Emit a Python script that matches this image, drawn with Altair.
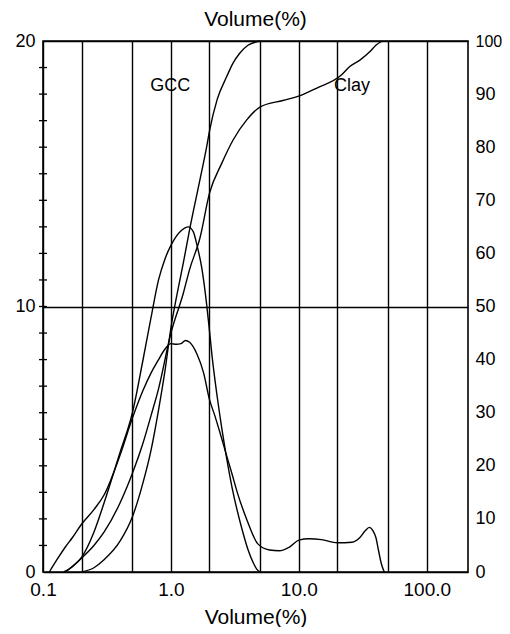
import altair as alt
import pandas as pd

# ---- data ----
clay_diff_x = [0.112, 0.13, 0.15, 0.17, 0.2, 0.25, 0.3, 0.4, 0.5, 0.6, 0.7, 0.8, 0.9, 1.0, 1.1, 1.2, 1.3, 1.4,
               1.6, 1.8, 2.0, 2.2, 2.4, 2.7, 3.0, 3.3, 3.9, 4.8, 5.9, 7.0, 8.5, 10, 12, 15, 20, 26, 30, 33,
               35.5, 38, 40, 42, 44, 46.5]
clay_diff_y = [0, 0.5, 0.95, 1.3, 1.8, 2.35, 2.9, 4.4, 5.8, 6.8, 7.5, 8.0, 8.4, 8.6, 8.58, 8.6, 8.72, 8.65,
               8.2, 7.5, 6.5, 5.9, 5.3, 4.45, 3.7, 3.0, 2.0, 1.05, 0.83, 0.8, 0.95, 1.2, 1.25, 1.22, 1.1, 1.12,
               1.3, 1.55, 1.68, 1.55, 1.3, 0.8, 0.34, 0]

gcc_diff_x = [0.145, 0.17, 0.2, 0.25, 0.3, 0.4, 0.5, 0.6, 0.7, 0.8, 0.9, 1.0, 1.2, 1.37, 1.5, 1.6, 1.75,
              1.9, 2.0, 2.1, 2.3, 2.5, 2.7, 3.0, 3.6, 4.0, 4.4, 4.7, 5.0]
gcc_diff_y = [0, 0.2, 0.55, 1.5, 2.6, 4.5, 6.0, 7.9, 9.6, 11.0, 11.8, 12.3, 12.85, 13.0, 12.8, 12.3, 11.4,
              10.1, 9.1, 8.1, 6.6, 5.4, 4.4, 3.2, 1.6, 0.85, 0.35, 0.1, 0]

gcc_cum_x = [0.2, 0.25, 0.3, 0.4, 0.5, 0.6, 0.7, 0.8, 0.9, 1.0, 1.11, 1.25, 1.4, 1.69, 1.9, 2.0, 2.3,
             2.73, 3.05, 3.45, 4.0, 5.0]
gcc_cum_y = [0, 0.8, 2.3, 5.8, 10.4, 16.5, 23, 30.5, 38, 46, 52, 58.2, 64.5, 74, 80, 83, 89, 93.3, 95.8,
             97.7, 99.2, 100]

clay_cum_x = [0.15, 0.2, 0.25, 0.3, 0.4, 0.5, 0.6, 0.7, 0.8, 1.0, 1.25, 1.4, 1.69, 2.0, 2.5, 3.07, 3.9,
              5.0, 7.5, 10.5, 13.7, 21.5, 25, 30, 36, 40, 45]
clay_cum_y = [0, 2.6, 5, 7.5, 13, 18.6, 24, 29.5, 34.5, 45, 52.5, 57, 63, 71.3, 77, 81.4, 85.1, 87.6,
              88.8, 89.8, 91.1, 93.6, 95.2, 96.4, 98, 99.2, 100]

grid_values = [0.1, 0.2, 0.5, 1, 2, 5, 10, 20, 50, 100]
left_labels = [0, 10, 20]
left_minor = list(range(1, 20))
right_labels = list(range(0, 101, 10))
curve_labels = ["GCC", "Clay"]
curve_label_x = [0.99, 26.0]
curve_label_y = [18.3, 18.3]

FONT = "Liberation Sans"

diff_df = pd.concat([
    pd.DataFrame({"x": clay_diff_x, "y": clay_diff_y, "s": "Clay"}),
    pd.DataFrame({"x": gcc_diff_x, "y": gcc_diff_y, "s": "GCC"}),
])
cum_df = pd.concat([
    pd.DataFrame({"x": clay_cum_x, "y": clay_cum_y, "s": "Clay"}),
    pd.DataFrame({"x": gcc_cum_x, "y": gcc_cum_y, "s": "GCC"}),
])
tick_df = pd.DataFrame({"t": left_minor})
lab_df = pd.DataFrame({"x": curve_label_x, "y": curve_label_y, "label": curve_labels})
title_df = pd.DataFrame({"t": ["Volume(%)"]})

xscale = alt.Scale(type="log", domain=[0.1, 210], nice=False)
yL = alt.Scale(domain=[0, 20], nice=False)
yR = alt.Scale(domain=[0, 100], nice=False)

xaxis = alt.Axis(
    values=grid_values,
    labelExpr="datum.value == 0.1 ? '0.1' : datum.value == 1 ? '1.0' : datum.value == 10 ? '10.0' : datum.value == 100 ? '100.0' : ''",
    grid=True, gridColor="black", gridOpacity=1, gridWidth=1.4,
    ticks=False, tickSize=0, domain=False, labelOverlap=False, labelFlush=False,
    labelFont=FONT, labelFontSize=19, labelColor="black", labelPadding=8,
    title="Volume(%)", titleFont=FONT, titleFontSize=21, titleFontWeight="normal",
    titleColor="black", titleY=45, titleBaseline="middle",
)

left_axis = alt.Axis(
    values=left_labels, orient="left", grid=True, gridColor="black", gridOpacity=1, gridWidth=1.5,
    ticks=False, tickSize=0, domain=False, labelFlush=False, labelOverlap=False,
    labelFont=FONT, labelFontSize=18, labelColor="black", labelPadding=8, title=None,
)
right_axis = alt.Axis(
    values=right_labels, orient="right", grid=False, ticks=False, tickSize=0, domain=False,
    labelFlush=False, labelOverlap=False,
    labelFont=FONT,
    labelFontSize={"condition": {"test": "datum.value == 100", "value": 16}, "value": 18},
    labelColor="black", labelPadding=7, title=None,
)

diff = alt.Chart(diff_df).mark_line(color="black", strokeWidth=1.4, interpolate="monotone").encode(
    x=alt.X("x:Q", scale=xscale, axis=xaxis),
    y=alt.Y("y:Q", scale=yL, axis=left_axis),
    detail="s:N",
)
cum = alt.Chart(cum_df).mark_line(color="black", strokeWidth=1.4, interpolate="monotone").encode(
    x=alt.X("x:Q", scale=xscale, axis=xaxis),
    y=alt.Y("y:Q", scale=yR, axis=right_axis),
    detail="s:N",
)
ticks = alt.Chart(tick_df).mark_rule(color="black", strokeWidth=1.3).encode(
    y=alt.Y("t:Q", scale=yL, axis=None),
    x=alt.value(-4), x2=alt.value(4),
)
labels = alt.Chart(lab_df).mark_text(font=FONT, fontSize=18, color="black").encode(
    x=alt.X("x:Q", scale=xscale, axis=xaxis),
    y=alt.Y("y:Q", scale=yL, axis=None),
    text="label:N",
)
top_title = alt.Chart(title_df).mark_text(font=FONT, fontSize=21, color="black", baseline="middle").encode(
    text="t:N", x=alt.value(212.5), y=alt.value(-21),
)

chart = alt.layer(diff, cum, ticks, labels, top_title).resolve_scale(y="independent").properties(
    width=425, height=531,
    autosize=alt.AutoSizeParams(type="none"),
    padding={"left": 35, "top": 33, "right": 34, "bottom": 55},
    background="white",
).configure_view(stroke="black", strokeWidth=1.6)

chart.save("out.html", embed_options={"renderer": "svg", "actions": False})
